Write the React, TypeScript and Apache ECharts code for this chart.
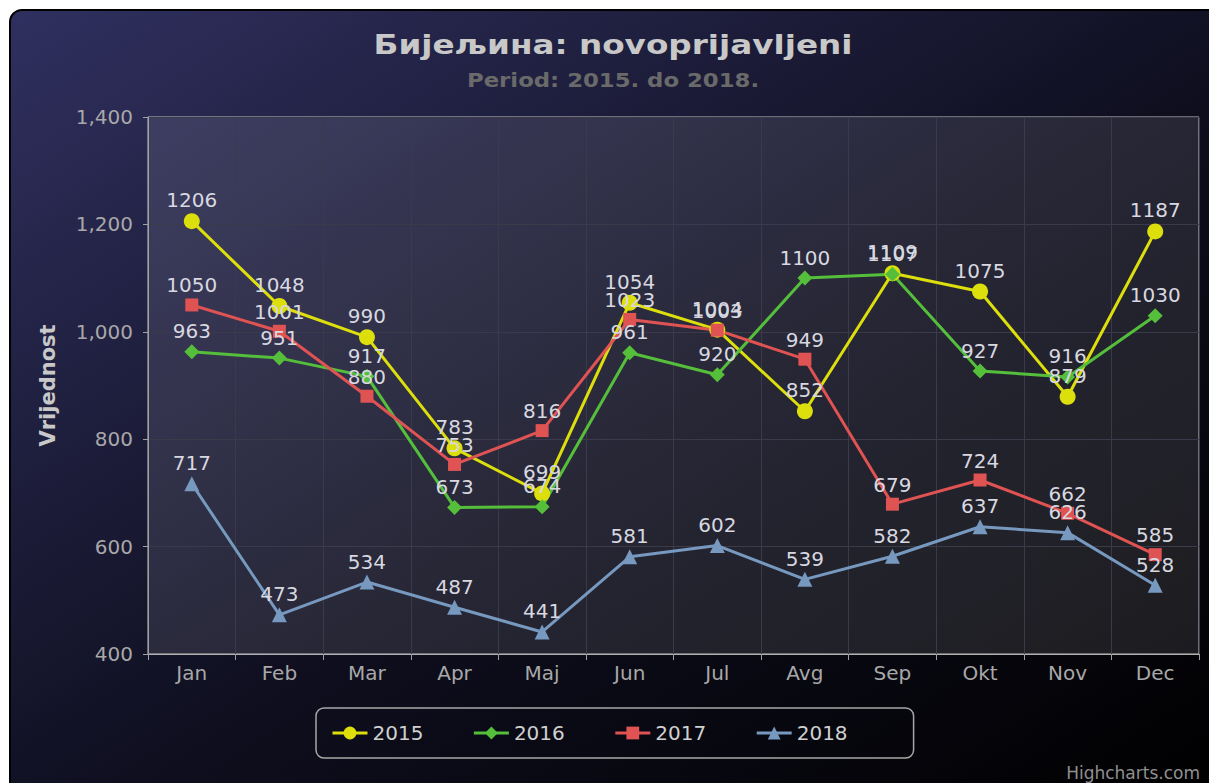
import React, { useEffect, useRef } from "react";
import * as echarts from "echarts";

const months = ["Jan", "Feb", "Mar", "Apr", "Maj", "Jun", "Jul", "Avg", "Sep", "Okt", "Nov", "Dec"];
const seriesNames = ["2015", "2016", "2017", "2018"];
const v2015 = [1206, 1048, 990, 783, 699, 1054, 1004, 852, 1109, 1075, 879, 1187];
const v2016 = [963, 951, 917, 673, 674, 961, 920, 1100, 1107, 927, 916, 1030];
const v2017 = [1050, 1001, 880, 753, 816, 1023, 1003, 949, 679, 724, 662, 585];
const v2018 = [717, 473, 534, 487, 441, 581, 602, 539, 582, 637, 626, 528];
const yTicks = [400, 600, 800, 1000, 1200, 1400];

const colors = ["#DDDF0D", "#55BF3B", "#DF5353", "#7798BF"];
const symbols = ["circle", "diamond", "rect", "triangle"];
const symbolSizes = [16, 15, 13, 15];
const FONT = "DejaVu Sans";

export default function App() {
  const ref = useRef<HTMLDivElement>(null);
  useEffect(() => {
    if (!ref.current) return;
    const chart = echarts.init(ref.current, undefined, { renderer: "svg" });
    const all = [v2015, v2016, v2017, v2018];
    chart.setOption({
      animation: false,
      backgroundColor: "#ffffff",
      textStyle: { fontFamily: FONT },
      graphic: [
        {
          type: "rect",
          z: -10,
          silent: true,
          shape: { x: 10, y: 10, width: 1215, height: 790, r: 12 },
          style: {
            fill: new echarts.graphic.LinearGradient(0, 0, 1, 1, [
              { offset: 0, color: "rgb(48,48,96)" },
              { offset: 0.55, color: "rgb(14,14,30)" },
              { offset: 1, color: "rgb(0,0,0)" },
            ]),
            stroke: "#000",
            lineWidth: 2,
          },
        },
        {
          type: "text",
          x: 613,
          y: 45,
          scaleX: 1.21,
          style: {
            text: "Бијељина: novoprijavljeni",
            fill: "#C8C8C8",
            font: `bold 27px '${FONT}'`,
            align: "center",
            verticalAlign: "middle",
          },
        },
        {
          type: "text",
          x: 613,
          y: 81,
          scaleX: 1.2,
          style: {
            text: "Period: 2015. do 2018.",
            fill: "#6a6a6a",
            font: `bold 19px '${FONT}'`,
            align: "center",
            verticalAlign: "middle",
          },
        },
        {
          type: "text",
          x: 1200,
          y: 773,
          style: {
            text: "Highcharts.com",
            fill: "#909090",
            font: `17px '${FONT}'`,
            align: "right",
            verticalAlign: "middle",
          },
        },
      ],
      grid: {
        left: 148,
        top: 117,
        right: 10,
        bottom: 129,
        show: true,
        backgroundColor: "rgba(255,255,255,0.1)",
        borderColor: "#c0c0c0",
        borderWidth: 1,
      },
      legend: {
        left: 316,
        top: 708,
        padding: [15, 66, 15, 15],
        borderColor: "#a8a8a8",
        borderWidth: 1.5,
        borderRadius: 8,
        itemWidth: 35,
        itemHeight: 16,
        itemGap: 49,
        lineStyle: { width: 3 },
        textStyle: { color: "#d0d0d0", fontSize: 20, fontFamily: FONT },
        data: seriesNames,
      },
      xAxis: {
        type: "category",
        data: months,
        boundaryGap: true,
        axisLine: { show: true, lineStyle: { color: "#b0b0b0", width: 1 } },
        axisTick: { show: true, length: 6, lineStyle: { color: "#a0a0a0" } },
        axisLabel: { color: "#a8a8a8", fontSize: 20, margin: 9, fontFamily: FONT },
        splitLine: { show: true, lineStyle: { color: "#3a3a4a", width: 1 } },
      },
      yAxis: {
        type: "value",
        min: yTicks[0],
        max: yTicks[yTicks.length - 1],
        interval: 200,
        name: "Vrijednost",
        nameLocation: "middle",
        nameGap: 90,
        nameRotate: 90,
        nameTextStyle: { color: "#c8c8c8", fontSize: 21, fontWeight: "bold", fontFamily: FONT },
        axisLine: { show: true, lineStyle: { color: "#a0a0a0" } },
        axisTick: { show: true, length: 5, lineStyle: { color: "#a0a0a0" } },
        axisLabel: {
          color: "#a8a8a8",
          fontSize: 20,
          margin: 15,
          fontFamily: FONT,
          formatter: (v: number) => v.toLocaleString("en-US"),
        },
        splitLine: { show: true, lineStyle: { color: "#3a3a4a", width: 1 } },
      },
      series: seriesNames.map((name, i) => ({
        name,
        type: "line",
        data: all[i],
        symbol: symbols[i],
        symbolSize: symbolSizes[i],
        showAllSymbol: true,
        color: colors[i],
        lineStyle: { width: 3, color: colors[i] },
        itemStyle: { color: colors[i] },
        label: {
          show: true,
          position: "top",
          distance: 3,
          color: "#d8d8e0",
          fontSize: 20,
          fontFamily: FONT,
        },
        emphasis: { disabled: true },
      })),
    });
    return () => chart.dispose();
  }, []);
  return (
    <div
      ref={ref}
      style={{ position: "fixed", left: 0, top: 0, width: 1209, height: 783 }}
    />
  );
}
